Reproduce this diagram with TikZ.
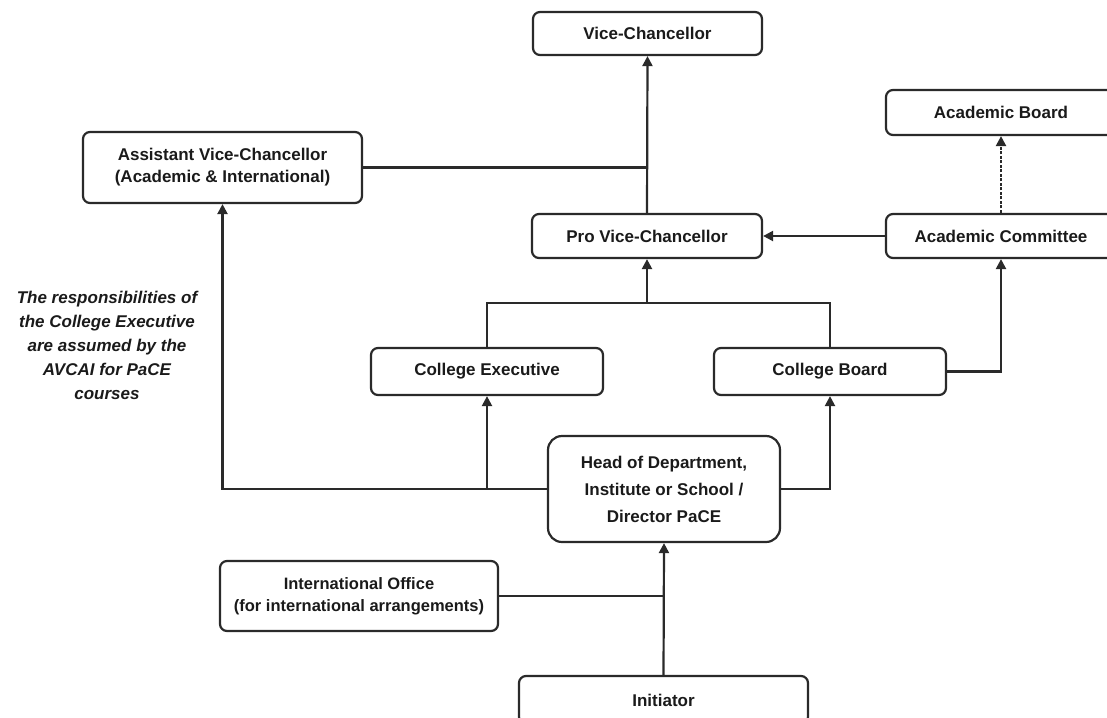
\documentclass[tikz,border=0pt]{standalone}
\usepackage{fontspec}
\setmainfont{Liberation Sans}
\usetikzlibrary{arrows.meta}
\definecolor{lineC}{HTML}{2A2A2A}
\definecolor{textC}{HTML}{1A1A1A}
\begin{document}
\begin{tikzpicture}[x=1pt,y=-1pt,
  orgbox/.style={draw=lineC, line width=2.2pt, rounded corners=7pt, inner sep=0pt,
    align=center, text=textC, font=\fontsize{17}{22}\selectfont\bfseries},
  conn/.style={draw=lineC, line width=2.2pt},
  arr/.style={conn, -{Triangle[length=10pt,width=10pt]}},
]
\useasboundingbox (0,0) rectangle (1107,717);
\begin{scope}
\clip (0,0) rectangle (1107,717);
\node[orgbox, minimum width=229pt, minimum height=43pt] (vc) at (647.5,33.5) {Vice-Chancellor};
\node[orgbox, minimum width=230pt, minimum height=45pt] (ab) at (1001,112.5) {Academic Board};
\node[orgbox, minimum width=279pt, minimum height=71pt] (avc) at (222.5,167.5) {Assistant Vice-Chancellor\\(Academic \& International)};
\node[orgbox, minimum width=230pt, minimum height=44pt] (pvc) at (647,236) {Pro Vice-Chancellor};
\node[orgbox, minimum width=230pt, minimum height=44pt] (ac) at (1001,236) {Academic Committee};
\node[orgbox, minimum width=232pt, minimum height=47pt] (ce) at (487,371.5) {College Executive};
\node[orgbox, minimum width=232pt, minimum height=47pt] (cb) at (830,371.5) {College Board};
\node[orgbox, rounded corners=14pt, minimum width=232pt, minimum height=106pt,
  font=\fontsize{17}{27}\selectfont\bfseries] (hod) at (664,489) {Head of Department,\\Institute or School /\\Director PaCE};
\node[orgbox, minimum width=278pt, minimum height=70pt,
  font=\fontsize{16.5}{22}\selectfont\bfseries] (io) at (359,596) {International Office\\(for international arrangements)};
\node[orgbox, minimum width=289pt, minimum height=48pt] (init) at (663.5,700) {Initiator};
\node[align=center, text=textC, inner sep=0pt, font=\fontsize{17}{24}\selectfont\bfseries\itshape] (note) at (107,345)
  {The responsibilities of\\the College Executive\\are assumed by the\\AVCAI for PaCE\\courses};

\coordinate (j1) at (647,303);
% connectors
\draw[arr] (pvc.north) -- (vc.south);
\draw[conn] (avc.east) -- (avc.east -| pvc.north);
\draw[arr] (ac.west) -- (pvc.east);
\draw[arr, dash pattern=on 3pt off 1.5pt] (ac.north) -- (ab.south);
\draw[conn] (ce.north) |- (j1) -| (cb.north);
\draw[arr] (j1) -- (pvc.south);
\draw[arr] (cb.east) -| (ac.south);
\draw[arr] (hod.west) -| (avc.south);
\draw[arr] (ce.south |- hod.west) -- (ce.south);
\draw[arr] (hod.east) -| (cb.south);
\draw[arr] (init.north) -- (hod.south);
\draw[conn] (io.east) -- (io.east -| hod.south);
\end{scope}
\end{tikzpicture}
\end{document}
